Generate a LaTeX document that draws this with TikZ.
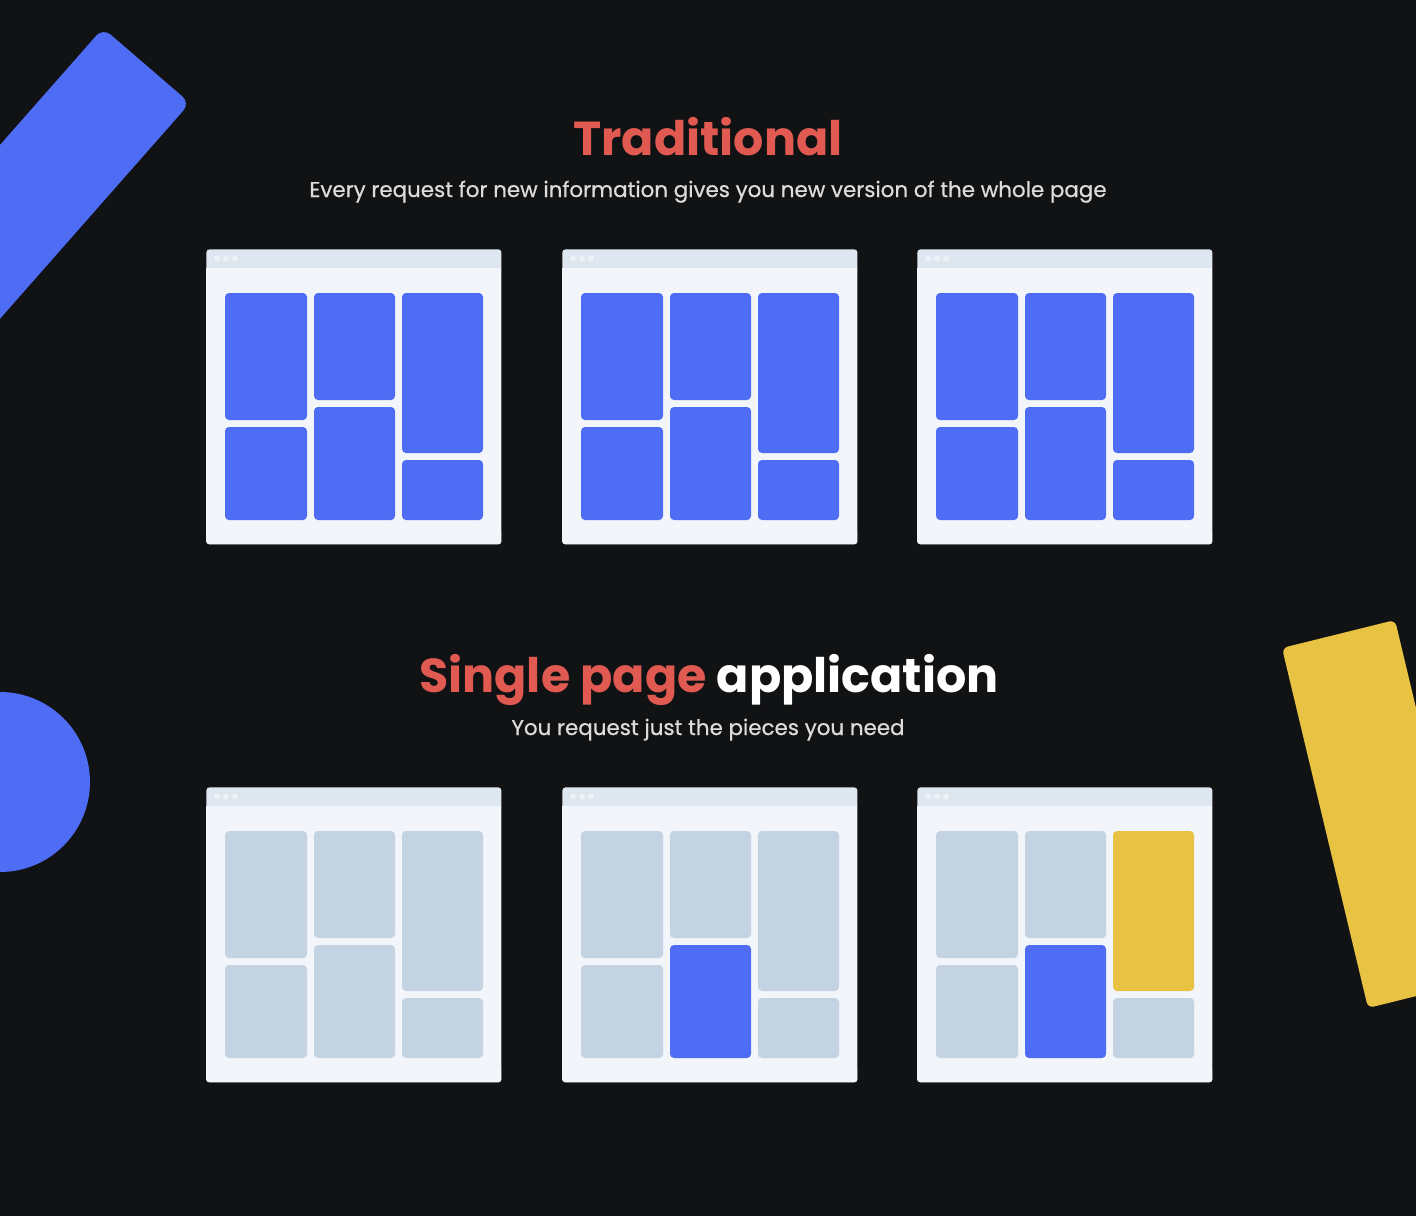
\documentclass[tikz,border=0pt]{standalone}
\usepackage{fontspec}
\setmainfont{Poppins}
\newfontfamily\medfont[FakeBold=0.6]{Poppins}
\begin{document}
\definecolor{bg}{HTML}{111214}
\definecolor{bluefill}{HTML}{4E6CF4}
\definecolor{greyfill}{HTML}{C4D3E2}
\definecolor{yellowfill}{HTML}{E8C243}
\definecolor{winbody}{HTML}{F2F5F9}
\definecolor{winbar}{HTML}{DEE6EF}
\definecolor{windot}{HTML}{EEF2F7}
\definecolor{titlered}{HTML}{E05A52}
\definecolor{subgrey}{HTML}{DCDCDC}
\tikzset{
  window/.style={fill=winbar, rounded corners=1.5pt},
  block/.style={rounded corners=2pt},
  title/.style={font=\bfseries\fontsize{23.8}{28}\selectfont, anchor=base},
  subtitle/.style={font=\medfont\fontsize{10.7}{13}\selectfont, text=subgrey, anchor=base},
}
% browser window: #1,#2 top-left corner, #3 name, #4..#9 block colours
% (left top, left bottom, middle top, middle bottom, right top, right bottom)
\newcommand{\browserwin}[9]{%
  \begin{scope}[shift={(#1,#2)}]
    \node[window, inner sep=0pt, minimum width=147.5pt, minimum height=147.5pt, anchor=north west] (#3) at (0,0) {};
    \fill[winbody] (0,19) rectangle (295,288);
    \fill[winbody, rounded corners=1.5pt] (0,280) rectangle (295,295);
    \foreach \dx in {11,20,29} \fill[windot] (\dx,9.5) circle (1.5pt);
    \fill[block, fill=#4] (19,44) rectangle (101,171);
    \fill[block, fill=#5] (19,178) rectangle (101,271);
    \fill[block, fill=#6] (108,44) rectangle (189,151);
    \fill[block, fill=#7] (108,158) rectangle (189,271);
    \fill[block, fill=#8] (196,44) rectangle (277,204);
    \fill[block, fill=#9] (196,211) rectangle (277,271);
  \end{scope}}
\begin{tikzpicture}[x=0.5pt, y=-0.5pt]
  \fill[bg] (0,0) rectangle (1416,1216);
  \useasboundingbox (0,0) rectangle (1416,1216);
  \begin{scope}
    \clip (0,0) rectangle (1416,1216);
    % decorative shapes
    \fill[bluefill, rounded corners=5pt] (103,28) -- (190,103) -- (-120,455) -- (-207,380) -- cycle;
    \fill[bluefill] (0,782) circle (45pt);
    \fill[yellowfill, rounded corners=3pt] (1282,648) -- (1395,620) -- (1481,980) -- (1368,1008) -- cycle;
  \end{scope}
  % headings
  \node[title, text=titlered] (trad) at (708,155) {Traditional};
  \node[subtitle] (tradsub) at (708,197) {Every request for new information gives you new version of the whole page};
  \node[title] (spa) at (709,692) {\textcolor{titlered}{Single page} \textcolor{white}{application}};
  \node[subtitle] (spasub) at (708,735) {You request just the pieces you need};
  % traditional: whole pages
  \browserwin{206}{249}{t1}{bluefill}{bluefill}{bluefill}{bluefill}{bluefill}{bluefill}
  \browserwin{562}{249}{t2}{bluefill}{bluefill}{bluefill}{bluefill}{bluefill}{bluefill}
  \browserwin{917}{249}{t3}{bluefill}{bluefill}{bluefill}{bluefill}{bluefill}{bluefill}
  % single page application: pieces
  \browserwin{206}{787}{s1}{greyfill}{greyfill}{greyfill}{greyfill}{greyfill}{greyfill}
  \browserwin{562}{787}{s2}{greyfill}{greyfill}{greyfill}{bluefill}{greyfill}{greyfill}
  \browserwin{917}{787}{s3}{greyfill}{greyfill}{greyfill}{bluefill}{yellowfill}{greyfill}
\end{tikzpicture}
\end{document}
